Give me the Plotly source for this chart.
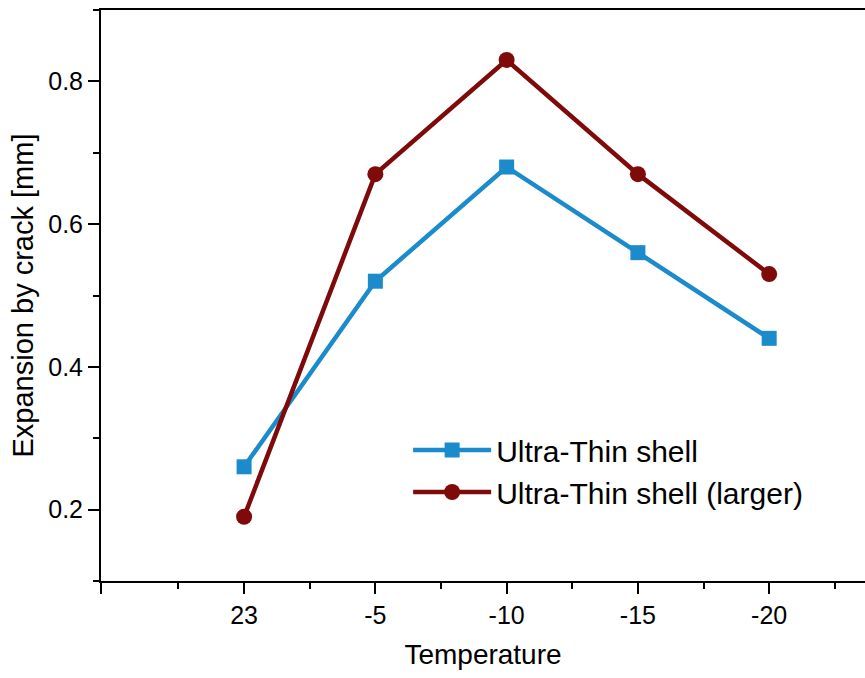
import plotly.graph_objects as go

categories = ["23", "-5", "-10", "-15", "-20"]
ultra_thin = [0.26, 0.52, 0.68, 0.56, 0.44]
ultra_thin_larger = [0.19, 0.67, 0.83, 0.67, 0.53]

xpos = list(range(len(categories)))

fig = go.Figure()
fig.add_trace(go.Scatter(
    x=xpos, y=ultra_thin, name="Ultra-Thin shell",
    mode="lines+markers",
    line=dict(color="#1B8BCB", width=4.5),
    marker=dict(symbol="square", size=15, color="#1B8BCB"),
))
fig.add_trace(go.Scatter(
    x=xpos, y=ultra_thin_larger, name="Ultra-Thin shell (larger)",
    mode="lines+markers",
    line=dict(color="#7F0A0A", width=4.5),
    marker=dict(symbol="circle", size=16, color="#7F0A0A"),
))

x0 = -1.09
fig.update_layout(
    width=865, height=678,
    margin=dict(l=101, r=0, t=10, b=97),
    plot_bgcolor="white", paper_bgcolor="white",
    font=dict(family="Liberation Sans, Arial, sans-serif", color="black"),
    showlegend=True,
    legend=dict(x=0.402, y=0.275, xanchor="left", yanchor="top",
                bgcolor="rgba(0,0,0,0)", font=dict(size=30), itemwidth=78,
                tracegroupgap=0),
    xaxis=dict(
        range=[x0, 4.73],
        tickvals=[x0] + xpos, ticktext=[""] + categories,
        ticks="outside", ticklen=11, tickwidth=2, tickcolor="black",
        showline=True, linewidth=2, linecolor="black", mirror=True,
        showgrid=False, zeroline=False,
        tickfont=dict(size=25),
        title=dict(text="Temperature", font=dict(size=28), standoff=16),
        minor=dict(tickvals=[-0.5, 0.5, 1.5, 2.5, 3.5, 4.5], ticks="outside",
                   ticklen=6, tickwidth=2, tickcolor="black", showgrid=False),
    ),
    yaxis=dict(
        range=[0.1, 0.9],
        tickvals=[0.2, 0.4, 0.6, 0.8], ticktext=["0.2", "0.4", "0.6", "0.8"],
        ticks="outside", ticklen=11, tickwidth=2, tickcolor="black",
        showline=True, linewidth=2, linecolor="black",
        showgrid=False, zeroline=False,
        tickfont=dict(size=25),
        title=dict(text="Expansion by crack [mm]", font=dict(size=29), standoff=6),
        minor=dict(tickvals=[0.1, 0.3, 0.5, 0.7, 0.9], ticks="outside",
                   ticklen=6, tickwidth=2, tickcolor="black", showgrid=False),
    ),
)

fig.write_html("out.html")
